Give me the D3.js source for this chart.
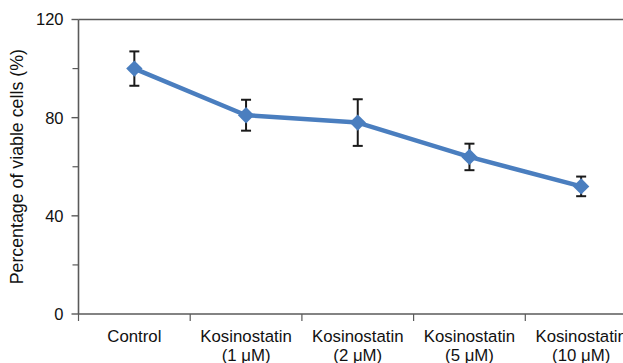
<!DOCTYPE html>
<html>
<head>
<meta charset="utf-8">
<script src="https://cdn.jsdelivr.net/npm/d3@7/dist/d3.min.js"></script>
<style>
  html, body { margin: 0; padding: 0; background: #fff; }
  svg { display: block; }
  text { font-family: "Liberation Sans", Arial, sans-serif; fill: #111; }
</style>
</head>
<body>
<svg id="chart" width="623" height="363"></svg>
<script>
// Cell viability by treatment
const categories = ["Control", "Kosinostatin\n(1 μM)", "Kosinostatin\n(2 μM)", "Kosinostatin\n(5 μM)", "Kosinostatin\n(10 μM)"];
const viability = [100, 81, 78, 64, 52];
const errors = [7, 6.3, 9.5, 5.4, 4];
const yTicks = [0, 40, 80, 120];
const yMinorTicks = [20, 60, 100];

const W = 623, H = 363;
const margin = { left: 78.5, top: 19.5, bottom: 49 };

const svg = d3.select("#chart");

const x = d3.scaleBand()
  .domain(categories)
  .range([margin.left, margin.left + 111.7 * categories.length])
  .padding(0);

const y = d3.scaleLinear()
  .domain([0, 120])
  .range([H - margin.bottom, margin.top]);

const axisColor = "#5a5a5a";
const x0 = margin.left, xEnd = W + 5;

// Frame top edge
svg.append("line")
  .attr("x1", x0).attr("x2", xEnd)
  .attr("y1", y(120)).attr("y2", y(120))
  .attr("stroke", axisColor).attr("stroke-width", 1.6);

// Y axis
const yAxis = svg.append("g").attr("transform", `translate(${x0},0)`);
yAxis.append("line")
  .attr("x1", 0).attr("x2", 0)
  .attr("y1", y(120)).attr("y2", y(0))
  .attr("stroke", axisColor).attr("stroke-width", 1.6);
yAxis.selectAll(".major").data(yTicks).join("line")
  .attr("x1", -7).attr("x2", 0)
  .attr("y1", d => y(d)).attr("y2", d => y(d))
  .attr("stroke", axisColor).attr("stroke-width", 1.4);
yAxis.selectAll(".minor").data(yMinorTicks).join("line")
  .attr("x1", -6).attr("x2", 0)
  .attr("y1", d => y(d)).attr("y2", d => y(d))
  .attr("stroke", axisColor).attr("stroke-width", 1.2);
yAxis.selectAll("text").data(yTicks).join("text")
  .attr("x", -15).attr("y", d => y(d))
  .attr("dy", "0.36em")
  .attr("text-anchor", "end")
  .attr("font-size", 16.5)
  .text(d => d);

// X axis
const xAxis = svg.append("g").attr("transform", `translate(0,${y(0)})`);
xAxis.append("line")
  .attr("x1", x0).attr("x2", xEnd)
  .attr("y1", 0).attr("y2", 0)
  .attr("stroke", axisColor).attr("stroke-width", 1.6);
xAxis.selectAll(".tick").data(categories).join("line")
  .attr("x1", d => x(d)).attr("x2", d => x(d))
  .attr("y1", 0).attr("y2", 7)
  .attr("stroke", axisColor).attr("stroke-width", 1.2);
const labels = xAxis.selectAll("text").data(categories).join("text")
  .attr("text-anchor", "middle")
  .attr("font-size", 16.8)
  .attr("transform", d => `translate(${x(d) + x.bandwidth() / 2},0)`);
labels.each(function(d) {
  const lines = d.split("\n");
  d3.select(this).selectAll("tspan").data(lines).join("tspan")
    .attr("x", 0)
    .attr("y", (l, i) => 28 + i * 18.5)
    .text(l => l);
});

// Y axis title
svg.append("text")
  .attr("transform", `translate(23,${(y(0) + y(120)) / 2}) rotate(-90)`)
  .attr("text-anchor", "middle")
  .attr("font-size", 17.8)
  .text("Percentage of viable cells (%)");

// Series line
const cx = d => x(d) + x.bandwidth() / 2;
const pts = categories.map((c, i) => [cx(c), y(viability[i])]);
const blue = "#4a7ebf";

svg.append("path")
  .attr("d", d3.line()(pts))
  .attr("fill", "none")
  .attr("stroke", blue)
  .attr("stroke-width", 4.5)
  .attr("stroke-linejoin", "round");

// Error bars
const eb = svg.append("g").attr("stroke", "#1a1a1a").attr("stroke-width", 2);
categories.forEach((c, i) => {
  const px = cx(c), hi = y(viability[i] + errors[i]), lo = y(viability[i] - errors[i]);
  eb.append("line").attr("x1", px).attr("x2", px).attr("y1", hi).attr("y2", lo);
  eb.append("line").attr("x1", px - 5).attr("x2", px + 5).attr("y1", hi).attr("y2", hi);
  eb.append("line").attr("x1", px - 5).attr("x2", px + 5).attr("y1", lo).attr("y2", lo);
});

// Diamond markers
svg.selectAll(".marker").data(pts).join("path")
  .attr("d", d3.symbol().type(d3.symbolDiamond2).size(170))
  .attr("transform", d => `translate(${d[0]},${d[1]})`)
  .attr("fill", blue);
</script>
</body>
</html>
